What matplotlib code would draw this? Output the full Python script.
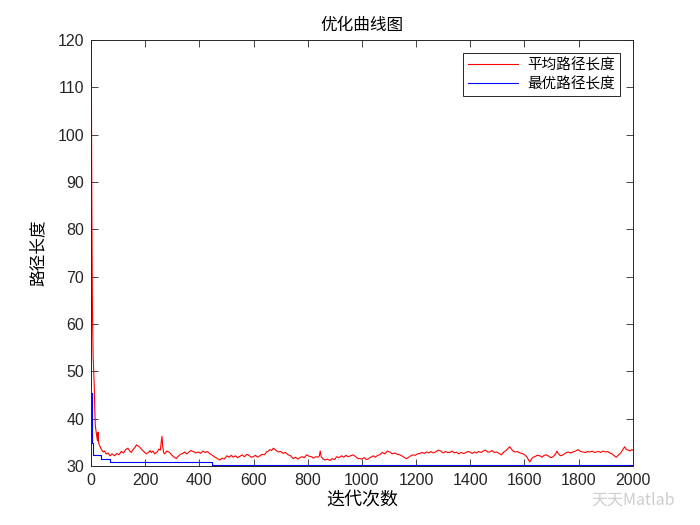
import matplotlib
matplotlib.use("Agg")
import matplotlib.pyplot as plt

plt.rcParams['font.family'] = ['Liberation Sans', 'Noto Sans CJK SC', 'DejaVu Sans']
plt.rcParams['axes.unicode_minus'] = False

# average path length per iteration
avg_iter = ([1, 2, 3, 4, 5, 6, 8, 10, 12, 14, 16, 18, 20, 22, 24, 26, 28, 30, 33, 36]
            + [40, 45, 50, 56, 63, 70, 78, 87, 95, 103, 112, 120, 128, 136, 143, 149, 156, 163, 168, 173,
               180, 186, 195, 204, 212, 218, 223, 229, 235, 244, 250, 256, 259, 262, 265, 268, 272, 280, 290, 297,
               305, 315, 322, 330, 339]
            + [346, 353, 360, 368, 378, 387, 396, 405, 413, 421, 430, 439, 448, 458, 467, 476, 484, 492, 501, 510,
               518, 525, 533, 541, 550, 558, 566, 575, 583, 591, 599, 607, 615, 624, 632, 640, 648, 655]
            + [660, 667, 673, 682, 691, 700, 710, 718, 728, 737, 747, 755, 763, 771, 779, 787, 796, 805, 814, 822,
               830, 838, 843, 846, 850, 856, 863, 872, 882, 890, 899, 907, 916, 925, 933, 941, 949, 958, 968, 977, 986]
            + [993, 1000, 1008, 1017, 1025, 1033, 1042, 1050, 1058, 1066, 1075, 1085, 1094, 1103, 1112, 1122, 1131,
               1140, 1150, 1158, 1165, 1173, 1181, 1189, 1197, 1205, 1214, 1222, 1230, 1239, 1247, 1255, 1263, 1272,
               1282, 1291, 1300, 1308, 1316]
            + [1325, 1333, 1341, 1349, 1357, 1366, 1374, 1382, 1390, 1399, 1407, 1415, 1423, 1431, 1440, 1448, 1456,
               1464, 1472, 1480, 1489, 1497, 1506, 1515, 1524, 1534, 1540, 1546, 1552, 1558, 1565, 1574, 1583, 1592,
               1601, 1610, 1615, 1620, 1626, 1632, 1638, 1647]
            + [1657, 1665, 1673, 1681, 1690, 1698, 1706, 1715, 1720, 1724, 1733, 1743, 1752, 1761, 1770, 1780, 1789,
               1798, 1807, 1817, 1825, 1833, 1841, 1850, 1858, 1866, 1874, 1882, 1890, 1898, 1907, 1915, 1923, 1930,
               1936, 1940, 1946, 1952, 1958, 1964, 1970, 1976, 1983, 1990, 1996, 2000])
avg_len = ([119, 100, 86, 75, 66, 60, 53, 50, 47, 42, 38.5, 37.6, 36.8, 36.0, 35.4, 37.2, 35.0, 34.6, 34.2, 33.8]
           + [33.4, 33.0, 33.2, 32.6, 32.8, 32.2, 32.6, 32.2, 32.7, 32.4, 33.1, 32.8, 33.5, 33.8, 33.2, 32.9, 33.6,
              34.0, 34.5, 34.3, 34.0, 33.6, 33.1, 32.6, 32.9, 33.3, 32.9, 33.2, 32.6, 33.0, 33.6, 33.4, 35.0, 36.3,
              34.0, 32.9, 32.6, 33.2, 32.9, 32.4, 32.0, 31.6, 32.1, 32.5, 32.7]
           + [33.0, 32.6, 32.9, 33.3, 33.1, 32.8, 33.0, 32.7, 33.2, 32.9, 33.1, 32.6, 32.3, 31.9, 31.6, 31.3, 31.7,
              31.5, 32.2, 31.9, 32.3, 31.9, 32.2, 31.8, 32.1, 32.4, 32.0, 32.5, 32.3, 31.9, 32.0, 32.3, 31.9, 32.2,
              32.5, 32.4, 33.0, 33.2]
           + [33.5, 33.3, 33.8, 33.4, 33.0, 33.1, 32.7, 32.9, 32.4, 32.2, 31.6, 31.9, 31.5, 31.8, 32.0, 31.8, 32.4,
              32.1, 32.0, 31.7, 32.0, 31.9, 32.2, 33.2, 32.0, 31.6, 31.3, 31.5, 31.2, 31.6, 31.4, 32.0, 31.8, 32.2,
              31.9, 32.3, 32.0, 32.2, 32.4, 32.0, 31.6]
           + [31.6, 31.5, 31.8, 31.4, 31.6, 31.9, 32.2, 31.9, 32.3, 32.4, 32.9, 32.6, 33.2, 33.0, 32.6, 32.8, 32.5,
              32.4, 32.1, 31.8, 31.6, 31.9, 32.2, 32.4, 32.3, 32.6, 32.7, 32.9, 32.7, 33.0, 32.8, 33.1, 32.8, 33.0,
              33.4, 33.2, 32.8, 33.1, 32.9]
           + [32.9, 33.2, 32.8, 33.0, 32.6, 32.9, 32.7, 32.8, 33.1, 33.0, 32.7, 33.0, 32.8, 33.1, 32.9, 33.2, 33.4,
              33.0, 33.0, 33.3, 32.9, 33.0, 32.7, 32.4, 33.0, 33.4, 33.8, 34.1, 33.6, 33.2, 33.0, 33.1, 32.8, 32.7,
              32.4, 31.9, 31.3, 30.9, 31.5, 31.9, 32.0, 32.3]
           + [32.2, 31.9, 32.3, 32.4, 32.1, 31.8, 32.0, 32.6, 33.2, 32.7, 32.2, 32.4, 32.8, 33.0, 32.8, 33.0, 33.2,
              33.5, 33.1, 33.0, 32.9, 33.1, 33.0, 33.2, 32.9, 33.0, 33.1, 32.9, 33.2, 33.0, 33.1, 32.8, 32.6, 32.3,
              32.0, 31.9, 32.3, 32.6, 33.0, 33.6, 34.1, 33.5, 33.4, 33.2, 33.5, 33.4])

# best path length (step changes)
best_iter = [1, 2, 3, 6, 38, 69, 448, 2000]
best_len = [45.4, 40.0, 35.0, 32.3, 31.6, 30.9, 30.35, 30.35]

x_ticks = list(range(0, 2001, 200))
y_ticks = list(range(30, 121, 10))

cjk = ['Noto Sans CJK SC', 'DejaVu Sans']

fig = plt.figure(figsize=(7, 5.25), dpi=100)
ax = fig.add_axes([0.13, 0.112, 0.774, 0.812])

ax.plot(avg_iter, avg_len, color='#ff0000', lw=0.8, label='平均路径长度')
ax.plot(best_iter, best_len, color='#0000ff', lw=0.8, drawstyle='steps-post', label='最优路径长度')

ax.set_xlim(0, 2000)
ax.set_ylim(30, 120)
ax.set_xticks(x_ticks)
ax.set_yticks(y_ticks)
ax.tick_params(direction='in', top=True, right=True, length=5, width=0.6,
               labelsize=11.5, colors='#262626', pad=5)
for sp in ax.spines.values():
    sp.set_linewidth(0.7)
    sp.set_color('#262626')

ax.set_title('优化曲线图', family=cjk, fontsize=12, pad=7)
ax.set_xlabel('迭代次数', family=cjk, fontsize=13, labelpad=2)
ax.set_ylabel('路径长度', family=cjk, fontsize=12, labelpad=8)

leg = ax.legend(loc='upper right', prop={'family': cjk, 'size': 10.5}, fancybox=False,
                edgecolor='#262626', framealpha=1, handlelength=3.4, borderaxespad=0.9,
                handletextpad=0.6, labelspacing=0.3, borderpad=0.35)
leg.get_frame().set_linewidth(0.7)

# watermark in the corner
fig.text(0.845, 0.038, '天天Matlab', family=cjk, fontsize=11.5, color='#c8c8c8', alpha=0.9)

fig.savefig('out.png', dpi=100)
